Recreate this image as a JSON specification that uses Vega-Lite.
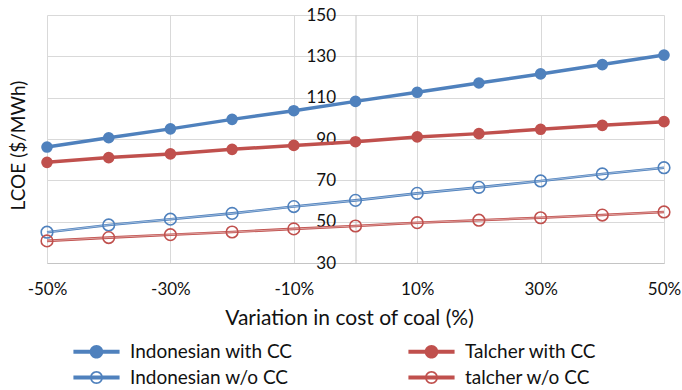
{
  "$schema": "https://vega.github.io/schema/vega-lite/v6.json",
  "width": 617,
  "height": 248,
  "autosize": {"type": "none"},
  "padding": {"left": 47, "top": 15, "right": 18, "bottom": 127},
  "background": "white",
  "config": {
    "font": "Lato",
    "view": {"stroke": null},
    "axis": {"labelColor": "#111111", "titleColor": "#111111", "titleFontWeight": "normal", "gridColor": "#d9d9d9", "gridWidth": 1, "domainColor": "#c4c4c4", "domainWidth": 1},
    "legend": {"labelColor": "#111111"}
  },
  "data": {
    "values": [
      {"x": -50, "series": "Indonesian with CC", "lcoe": 86.1},
      {"x": -40, "series": "Indonesian with CC", "lcoe": 90.6},
      {"x": -30, "series": "Indonesian with CC", "lcoe": 94.9},
      {"x": -20, "series": "Indonesian with CC", "lcoe": 99.5},
      {"x": -10, "series": "Indonesian with CC", "lcoe": 103.7},
      {"x": 0, "series": "Indonesian with CC", "lcoe": 108.2},
      {"x": 10, "series": "Indonesian with CC", "lcoe": 112.6},
      {"x": 20, "series": "Indonesian with CC", "lcoe": 117.1},
      {"x": 30, "series": "Indonesian with CC", "lcoe": 121.5},
      {"x": 40, "series": "Indonesian with CC", "lcoe": 126.0},
      {"x": 50, "series": "Indonesian with CC", "lcoe": 130.6},
      {"x": -50, "series": "Talcher with CC", "lcoe": 78.7},
      {"x": -40, "series": "Talcher with CC", "lcoe": 81.0},
      {"x": -30, "series": "Talcher with CC", "lcoe": 82.8},
      {"x": -20, "series": "Talcher with CC", "lcoe": 85.0},
      {"x": -10, "series": "Talcher with CC", "lcoe": 86.9},
      {"x": 0, "series": "Talcher with CC", "lcoe": 88.7},
      {"x": 10, "series": "Talcher with CC", "lcoe": 91.0},
      {"x": 20, "series": "Talcher with CC", "lcoe": 92.6},
      {"x": 30, "series": "Talcher with CC", "lcoe": 94.7},
      {"x": 40, "series": "Talcher with CC", "lcoe": 96.6},
      {"x": 50, "series": "Talcher with CC", "lcoe": 98.4},
      {"x": -50, "series": "Indonesian w/o CC", "lcoe": 44.9},
      {"x": -40, "series": "Indonesian w/o CC", "lcoe": 48.4},
      {"x": -30, "series": "Indonesian w/o CC", "lcoe": 51.2},
      {"x": -20, "series": "Indonesian w/o CC", "lcoe": 54.0},
      {"x": -10, "series": "Indonesian w/o CC", "lcoe": 57.3},
      {"x": 0, "series": "Indonesian w/o CC", "lcoe": 60.3},
      {"x": 10, "series": "Indonesian w/o CC", "lcoe": 63.7},
      {"x": 20, "series": "Indonesian w/o CC", "lcoe": 66.6},
      {"x": 30, "series": "Indonesian w/o CC", "lcoe": 69.7},
      {"x": 40, "series": "Indonesian w/o CC", "lcoe": 73.1},
      {"x": 50, "series": "Indonesian w/o CC", "lcoe": 76.1},
      {"x": -50, "series": "talcher w/o CC", "lcoe": 40.7},
      {"x": -40, "series": "talcher w/o CC", "lcoe": 42.3},
      {"x": -30, "series": "talcher w/o CC", "lcoe": 43.7},
      {"x": -20, "series": "talcher w/o CC", "lcoe": 45.0},
      {"x": -10, "series": "talcher w/o CC", "lcoe": 46.5},
      {"x": 0, "series": "talcher w/o CC", "lcoe": 47.9},
      {"x": 10, "series": "talcher w/o CC", "lcoe": 49.5},
      {"x": 20, "series": "talcher w/o CC", "lcoe": 50.7},
      {"x": 30, "series": "talcher w/o CC", "lcoe": 51.9},
      {"x": 40, "series": "talcher w/o CC", "lcoe": 53.2},
      {"x": 50, "series": "talcher w/o CC", "lcoe": 54.7}
    ]
  },
  "encoding": {
    "x": {
      "field": "x", "type": "quantitative",
      "scale": {"domain": [-50, 50], "nice": false, "zero": false},
      "axis": {
        "values": [-50, -30, -10, 10, 30, 50],
        "labelExpr": "datum.value + '%'",
        "ticks": false, "tickSize": 0, "labelPadding": 18,
        "labelFontSize": 17, "labelFlush": false,
        "grid": true,
        "title": "Variation in cost of coal (%)",
        "titleFontSize": 21, "titleX": 302, "titleY": 55, "titleBaseline": "middle", "titleAlign": "center"
      }
    },
    "y": {
      "field": "lcoe", "type": "quantitative",
      "scale": {"domain": [30, 150], "nice": false, "zero": false},
      "axis": {
        "values": [30, 50, 70, 90, 110, 130, 150],
        "offset": -308.5,
        "ticks": false, "tickSize": 0, "labelPadding": 20,
        "labelFontSize": 17,
        "grid": true,
        "title": "LCOE ($/MWh)",
        "titleFontSize": 19, "titleX": -337, "titleY": 130, "titleAngle": -90,
        "titleBaseline": "middle", "titleAlign": "center"
      }
    }
  },
  "layer": [
    {
      "transform": [{"filter": {"field": "series", "oneOf": ["Indonesian with CC", "Talcher with CC"]}}],
      "mark": {"type": "line", "strokeWidth": 3.5},
      "encoding": {
        "color": {
          "field": "series", "type": "nominal",
          "scale": {
            "domain": ["Indonesian with CC", "Talcher with CC", "Indonesian w/o CC", "talcher w/o CC"],
            "range": ["#4f81bd", "#c0504d", "#4f81bd", "#c0504d"]
          },
          "legend": {
            "title": null,
            "orient": "none", "legendX": 40, "legendY": 327,
            "columns": 2, "direction": "horizontal",
            "columnPadding": 115, "rowPadding": 6,
            "labelFontSize": 19, "labelOffset": 24, "labelLimit": 400,
            "symbolSize": 169,
            "encode": {
              "symbols": {
                "update": {
                  "shape": {"signal": "indexof(datum.value, 'w/o') >= 0 ? 'M-3.55,-0.3 L3.55,-0.3 L3.55,0.3 L-3.55,0.3 Z M-1,0 A1,1 0 1,1 1,0 A1,1 0 1,1 -1,0 Z M-0.74,0 A0.74,0.74 0 1,0 0.74,0 A0.74,0.74 0 1,0 -0.74,0 Z' : 'M-3.55,-0.3 L3.55,-0.3 L3.55,0.3 L-3.55,0.3 Z M-1.05,0 A1.05,1.05 0 1,1 1.05,0 A1.05,1.05 0 1,1 -1.05,0 Z'"},
                  "fill": {"signal": "scale('color', datum.value)"},
                  "fillOpacity": {"value": 1},
                  "strokeWidth": {"value": 0},
                  "stroke": {"value": "transparent"}
                }
              }
            }
          }
        }
      }
    },
    {
      "transform": [{"filter": {"field": "series", "oneOf": ["Indonesian w/o CC", "talcher w/o CC"]}}],
      "mark": {"type": "line", "strokeWidth": 2.6},
      "encoding": {"color": {"field": "series", "type": "nominal"}}
    },
    {
      "transform": [{"filter": {"field": "series", "oneOf": ["Indonesian w/o CC", "talcher w/o CC"]}}],
      "mark": {"type": "line", "strokeWidth": 0.7, "color": "white", "opacity": 0.65},
      "encoding": {"detail": {"field": "series", "type": "nominal"}}
    },
    {
      "transform": [{"filter": {"field": "series", "oneOf": ["Indonesian with CC", "Talcher with CC"]}}],
      "mark": {"type": "point", "shape": "circle", "filled": true, "size": 135, "opacity": 1},
      "encoding": {"color": {"field": "series", "type": "nominal"}}
    },
    {
      "transform": [{"filter": {"field": "series", "oneOf": ["Indonesian w/o CC", "talcher w/o CC"]}}],
      "mark": {"type": "point", "shape": "circle", "filled": false, "size": 135, "strokeWidth": 1.6, "opacity": 1},
      "encoding": {"color": {"field": "series", "type": "nominal"}}
    }
  ]
}
